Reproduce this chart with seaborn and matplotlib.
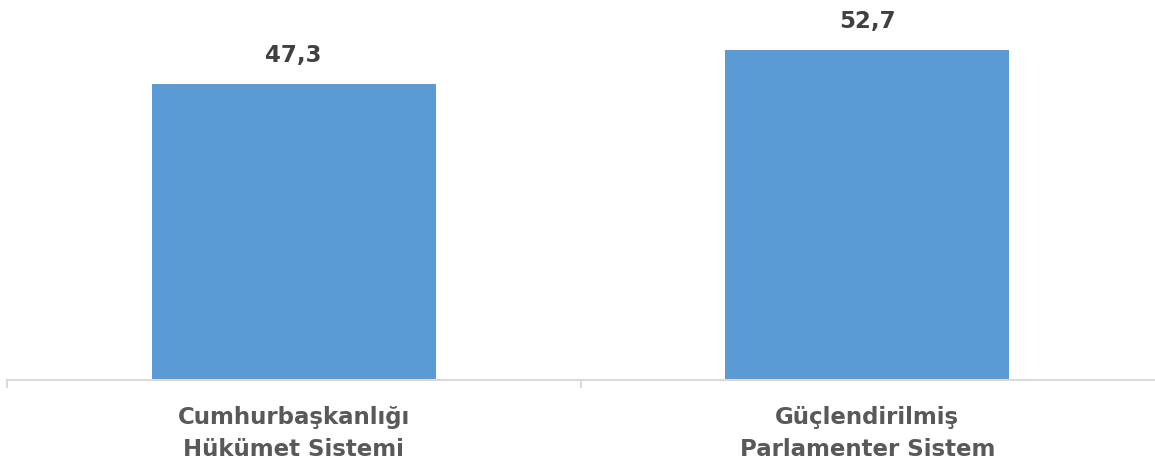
import matplotlib
matplotlib.use("Agg")
import matplotlib.pyplot as plt
import seaborn as sns
import pandas as pd

# chart data
categories = ["Cumhurbaşkanlığı\nHükümet Sistemi", "Güçlendirilmiş\nParlamenter Sistem"]
values = [47.3, 52.7]

df = pd.DataFrame({"sistem": categories, "oran": values})

sns.set_style("white")
plt.rcParams["font.family"] = ["DejaVu Sans"]

fig = plt.figure(figsize=(11.55, 4.64), dpi=100)
ax = fig.add_axes([7 / 1155, 83 / 464, 1147 / 1155, 381 / 464])

sns.barplot(data=df, x="sistem", y="oran", color="#5B9BD5", saturation=1,
            width=0.495, linewidth=0, ax=ax)

ax.set_xlim(-0.5, 1.5)
ax.set_ylim(0, 60.9)

labels = [f"{v:.1f}".replace(".", ",") for v in values]
ax.bar_label(ax.containers[0], labels=labels, padding=13,
             fontsize=16.5, fontweight="bold", color="#404040")

# axis styling
for side in ["top", "right", "left"]:
    ax.spines[side].set_visible(False)
ax.spines["bottom"].set_color("#d9d9d9")
ax.spines["bottom"].set_linewidth(1.5)
ax.set_yticks([])
ax.set_xlabel("")
ax.set_ylabel("")
ax.set_xticks([0, 1])
ax.set_xticklabels(categories, fontsize=16.5, fontweight="bold", color="#595959",
                   linespacing=1.5)
ax.tick_params(axis="x", which="major", length=0, pad=18)
ax.set_xticks([-0.5, 0.5], minor=True)
ax.tick_params(axis="x", which="minor", bottom=True, length=6, width=1.5,
               color="#d9d9d9")

fig.savefig("out.png", dpi=100)
